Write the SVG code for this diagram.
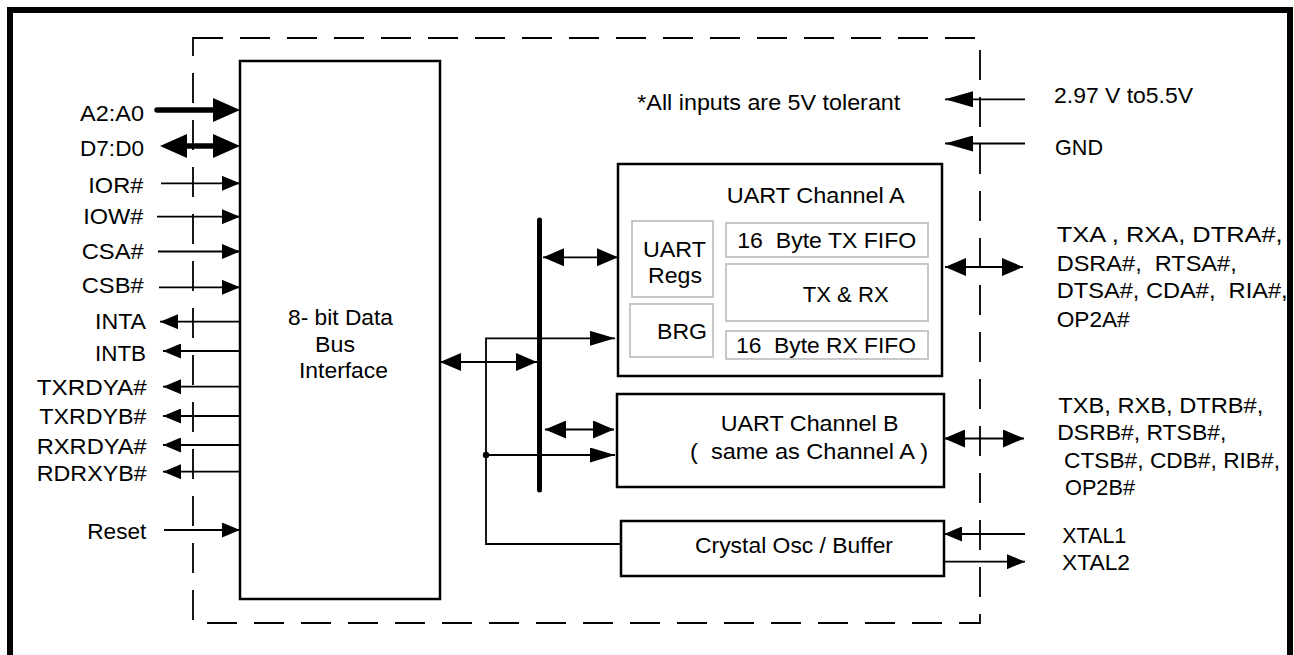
<svg xmlns="http://www.w3.org/2000/svg" width="1294" height="655" viewBox="0 0 1294 655">
<style>
  text { font-family: "Liberation Sans", Arial, sans-serif; font-size: 22px; fill: #000; white-space: pre; }
  .box { fill: #fff; stroke: #000; stroke-width: 2.5; }
  .sub { fill: #fff; stroke: #c8c8c8; stroke-width: 2; }
  .w { fill: none; stroke: #000; stroke-width: 1.8; }
  .thick { fill: none; stroke: #000; stroke-width: 5.5; }
  .dash { fill: none; stroke: #000; stroke-width: 1.8; stroke-dasharray: 30 17; }
</style>
<defs>
  <marker id="ah" markerUnits="userSpaceOnUse" markerWidth="18" markerHeight="15" refX="18" refY="7.5" orient="auto-start-reverse"><path d="M0,0 L18,7.5 L0,15 z" fill="#000"/></marker>
  <marker id="am" markerUnits="userSpaceOnUse" markerWidth="21" markerHeight="18" refX="21" refY="9" orient="auto-start-reverse"><path d="M0,0 L21,9 L0,18 z" fill="#000"/></marker>
  <marker id="al" markerUnits="userSpaceOnUse" markerWidth="25" markerHeight="15" refX="25" refY="7.5" orient="auto-start-reverse"><path d="M0,0 L25,7.5 L0,15 z" fill="#000"/></marker>
  <marker id="ap" markerUnits="userSpaceOnUse" markerWidth="28" markerHeight="16" refX="28" refY="8" orient="auto-start-reverse"><path d="M0,0 L28,8 L0,16 z" fill="#000"/></marker>
  <marker id="ab" markerUnits="userSpaceOnUse" markerWidth="27" markerHeight="24" refX="12" refY="12" orient="auto-start-reverse"><path d="M0,0 L27,12 L0,24 z" fill="#000"/></marker>
</defs>
<rect x="0" y="0" width="1294" height="655" fill="#fff"/>
<g id="frame">
  <path d="M10,655 V10 H1290 V655" fill="none" stroke="#000" stroke-width="6"/>
</g>
<g id="chip-boundary">
  <path class="dash" d="M193,38 H980 V623 H193 Z"/>
</g>
<g id="bus-interface">
  <rect class="box" x="240" y="61" width="200" height="538" stroke-width="2"/>
  <text x="288" y="325" textLength="105" lengthAdjust="spacingAndGlyphs">8- bit Data</text>
  <text x="315" y="351.7" textLength="40" lengthAdjust="spacingAndGlyphs">Bus</text>
  <text x="299" y="378.3" textLength="89" lengthAdjust="spacingAndGlyphs">Interface</text>
</g>
<g id="uart-a">
  <rect class="box" x="618" y="164" width="324" height="212"/>
  <text x="726.7" y="203.3" textLength="178" lengthAdjust="spacingAndGlyphs">UART Channel A</text>
  <g id="uart-regs">
    <rect class="sub" x="632" y="221" width="81" height="76"/>
    <text x="643" y="257" textLength="63" lengthAdjust="spacingAndGlyphs">UART</text>
    <text x="648" y="282.7" textLength="54" lengthAdjust="spacingAndGlyphs">Regs</text>
  </g>
  <g id="brg">
    <rect class="sub" x="630" y="304" width="83" height="53"/>
    <text x="657" y="339.3" textLength="50" lengthAdjust="spacingAndGlyphs">BRG</text>
  </g>
  <g id="tx-fifo">
    <rect class="sub" x="726" y="223" width="202" height="34"/>
    <text x="737.3" y="248.3" textLength="179" lengthAdjust="spacingAndGlyphs">16  Byte TX FIFO</text>
  </g>
  <g id="tx-rx">
    <rect class="sub" x="726" y="264" width="202" height="57"/>
    <text x="802.7" y="301.7" textLength="86" lengthAdjust="spacingAndGlyphs">TX &amp; RX</text>
  </g>
  <g id="rx-fifo">
    <rect class="sub" x="726" y="331" width="202" height="28"/>
    <text x="736" y="352.7" textLength="180" lengthAdjust="spacingAndGlyphs">16  Byte RX FIFO</text>
  </g>
</g>
<g id="uart-b">
  <rect class="box" x="617" y="394" width="327" height="93"/>
  <text x="720.7" y="430.5" textLength="178" lengthAdjust="spacingAndGlyphs">UART Channel B</text>
  <text x="690" y="459" textLength="238" lengthAdjust="spacingAndGlyphs">(  same as Channel A )</text>
</g>
<g id="crystal">
  <rect class="box" x="621" y="521" width="323" height="55"/>
  <text x="695" y="552.7" textLength="198" lengthAdjust="spacingAndGlyphs">Crystal Osc / Buffer</text>
</g>
<g id="note">
  <text x="637.3" y="110" textLength="263" lengthAdjust="spacingAndGlyphs">*All inputs are 5V tolerant</text>
</g>
<g id="pins-left">
  <text x="80" y="120.5" textLength="64" lengthAdjust="spacingAndGlyphs">A2:A0</text>
  <text x="80" y="156" textLength="64" lengthAdjust="spacingAndGlyphs">D7:D0</text>
  <text x="88.3" y="192.5" textLength="55" lengthAdjust="spacingAndGlyphs">IOR#</text>
  <text x="83.3" y="223.5" textLength="60" lengthAdjust="spacingAndGlyphs">IOW#</text>
  <text x="81.7" y="258.5" textLength="62" lengthAdjust="spacingAndGlyphs">CSA#</text>
  <text x="81.7" y="292.7" textLength="62" lengthAdjust="spacingAndGlyphs">CSB#</text>
  <text x="95" y="329" textLength="51" lengthAdjust="spacingAndGlyphs">INTA</text>
  <text x="95" y="360.5" textLength="51" lengthAdjust="spacingAndGlyphs">INTB</text>
  <text x="36.7" y="395" textLength="110" lengthAdjust="spacingAndGlyphs">TXRDYA#</text>
  <text x="39.3" y="424" textLength="107" lengthAdjust="spacingAndGlyphs">TXRDYB#</text>
  <text x="36.7" y="454" textLength="110" lengthAdjust="spacingAndGlyphs">RXRDYA#</text>
  <text x="36.7" y="480.5" textLength="110" lengthAdjust="spacingAndGlyphs">RDRXYB#</text>
  <text x="87.3" y="539.3" textLength="59" lengthAdjust="spacingAndGlyphs">Reset</text>
</g>
<g id="pins-right">
  <text x="1054" y="103" textLength="139" lengthAdjust="spacingAndGlyphs">2.97 V to5.5V</text>
  <text x="1055" y="155" textLength="48" lengthAdjust="spacingAndGlyphs">GND</text>
  <text x="1056.7" y="242" textLength="226" lengthAdjust="spacingAndGlyphs">TXA , RXA, DTRA#,</text>
  <text x="1056.7" y="271" textLength="180" lengthAdjust="spacingAndGlyphs">DSRA#,  RTSA#,</text>
  <text x="1056.7" y="298" textLength="231" lengthAdjust="spacingAndGlyphs">DTSA#, CDA#,  RIA#,</text>
  <text x="1056.7" y="327" textLength="73" lengthAdjust="spacingAndGlyphs">OP2A#</text>
  <text x="1058.3" y="413.3" textLength="205" lengthAdjust="spacingAndGlyphs">TXB, RXB, DTRB#,</text>
  <text x="1057.3" y="440" textLength="169" lengthAdjust="spacingAndGlyphs">DSRB#, RTSB#,</text>
  <text x="1064" y="468.3" textLength="216" lengthAdjust="spacingAndGlyphs">CTSB#, CDB#, RIB#,</text>
  <text x="1065" y="495" textLength="70" lengthAdjust="spacingAndGlyphs">OP2B#</text>
  <text x="1062.3" y="543.3" textLength="64" lengthAdjust="spacingAndGlyphs">XTAL1</text>
  <text x="1062" y="570" textLength="68" lengthAdjust="spacingAndGlyphs">XTAL2</text>
</g>
<g id="connectors">
  <!-- left pins -->
  <line class="thick" x1="157" y1="110" x2="225" y2="110" stroke-linecap="round" marker-end="url(#ab)"/>
  <line class="thick" x1="175" y1="146" x2="225" y2="146" marker-start="url(#ab)" marker-end="url(#ab)"/>
  <line class="w" x1="161" y1="183.3" x2="240" y2="183.3" marker-end="url(#ah)"/>
  <line class="w" x1="157" y1="216.7" x2="240" y2="216.7" marker-end="url(#ah)"/>
  <line class="w" x1="158" y1="251.5" x2="240" y2="251.5" marker-end="url(#ah)"/>
  <line class="w" x1="159" y1="287.3" x2="240" y2="287.3" marker-end="url(#ah)"/>
  <line class="w" x1="240" y1="321.7" x2="160" y2="321.7" marker-end="url(#ah)"/>
  <line class="w" x1="240" y1="351" x2="163" y2="351" marker-end="url(#ah)"/>
  <line class="w" x1="240" y1="386.7" x2="163" y2="386.7" marker-end="url(#ah)"/>
  <line class="w" x1="240" y1="416" x2="163" y2="416" marker-end="url(#ah)"/>
  <line class="w" x1="240" y1="445" x2="163" y2="445" marker-end="url(#ah)"/>
  <line class="w" x1="240" y1="471.7" x2="163" y2="471.7" marker-end="url(#ah)"/>
  <line class="w" x1="164" y1="530" x2="240" y2="530" marker-end="url(#ah)"/>
  <!-- internal bus -->
  <line x1="539.5" y1="220" x2="539.5" y2="490" stroke="#000" stroke-width="5" stroke-linecap="round"/>
  <line class="w" x1="440" y1="362" x2="537" y2="362" marker-start="url(#am)" marker-end="url(#am)"/>
  <line class="w" x1="543" y1="257.3" x2="618" y2="257.3" marker-start="url(#am)" marker-end="url(#am)"/>
  <line class="w" x1="545" y1="429.5" x2="614" y2="429.5" marker-start="url(#am)" marker-end="url(#am)"/>
  <!-- clock distribution -->
  <path class="w" d="M621,544 H486 V338.3 H615" marker-end="url(#al)"/>
  <line class="w" x1="486" y1="455" x2="615" y2="455" marker-end="url(#al)"/>
  <circle cx="486" cy="455" r="3.2" fill="#000"/>
  <!-- right pins -->
  <line class="w" x1="1025" y1="99.3" x2="945" y2="99.3" marker-end="url(#ap)"/>
  <line class="w" x1="1025" y1="143.5" x2="945" y2="143.5" marker-end="url(#ap)"/>
  <line class="w" x1="945" y1="267" x2="1023" y2="267" marker-start="url(#am)" marker-end="url(#am)"/>
  <line class="w" x1="944" y1="438.5" x2="1024" y2="438.5" marker-start="url(#am)" marker-end="url(#am)"/>
  <line class="w" x1="1025" y1="534" x2="944" y2="534" marker-end="url(#ah)"/>
  <line class="w" x1="944" y1="561.7" x2="1025" y2="561.7" marker-end="url(#ah)"/>
</g>
</svg>
